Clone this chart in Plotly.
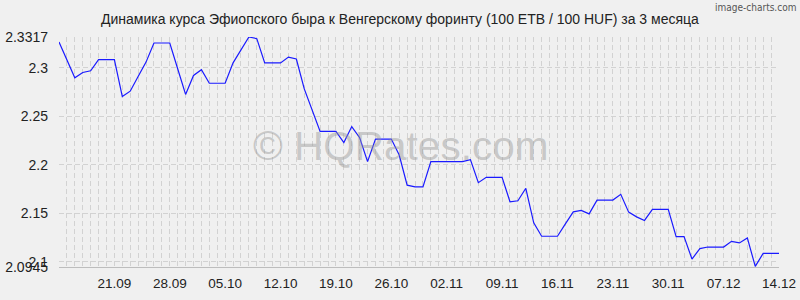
import datetime as dt
import plotly.graph_objects as go

start_date = dt.date(2025, 9, 14)
values = [
    2.3265, 2.3083, 2.2896, 2.2951, 2.2969, 2.3083, 2.3083, 2.3083, 2.2703, 2.2758,
    2.2910, 2.3058, 2.3255, 2.3255, 2.3255, 2.2990, 2.2725, 2.2920, 2.2980, 2.2840,
    2.2840, 2.2840, 2.3050, 2.3180, 2.3317, 2.3300, 2.3050, 2.3050, 2.3050, 2.3110,
    2.3090, 2.2782, 2.2565, 2.2343, 2.2343, 2.2343, 2.2229, 2.2393, 2.2278, 2.2032,
    2.2264, 2.2264, 2.2264, 2.2100, 2.1789, 2.1771, 2.1771, 2.2032, 2.2032, 2.2032,
    2.2032, 2.2032, 2.2052, 2.1815, 2.1870, 2.1870, 2.1870, 2.1618, 2.1628, 2.1757,
    2.1400, 2.1262, 2.1262, 2.1262, 2.1390, 2.1514, 2.1529, 2.1493, 2.1635, 2.1635,
    2.1635, 2.1694, 2.1511, 2.1462, 2.1425, 2.1539, 2.1539, 2.1539, 2.1259, 2.1259,
    2.1027, 2.1135, 2.1151, 2.1151, 2.1151, 2.1210, 2.1193, 2.1245, 2.0951, 2.1086,
    2.1086, 2.1086,
]
dates = [start_date + dt.timedelta(days=i) for i in range(len(values))]

# weekly x tick labels (dd.mm), first one on 21.09
x_tickdates = [dt.date(2025, 9, 21) + dt.timedelta(days=7 * k) for k in range(13)]

y_tickvals = [2.0945, 2.1, 2.15, 2.2, 2.25, 2.3, 2.3317]
y_ticktext = ["2.0945", "2.1", "2.15", "2.2", "2.25", "2.3", "2.3317"]
y_min, y_max = 2.0945, 2.3317

title_text = "Динамика курса Эфиопского быра к Венгерскому форинту (100 ETB / 100 HUF) за 3 месяца"
watermark = "© HQRates.com"
credit = "image-charts.com"

BG = "#f0f0f0"
GRID = "#d2d2d2"
FONT = "Liberation Sans, Arial, sans-serif"

ML, MR, MT, MB = 59, 21, 37, 33
W, H = 800, 300
plot_w = W - ML - MR
plot_h = H - MT - MB


def px_x(x):
    return (x - ML) / plot_w


def px_y(y):
    return 1 - (y - MT) / plot_h


fig = go.Figure()
fig.add_trace(go.Scatter(
    x=dates, y=values, mode="lines",
    line=dict(color="#1a1aff", width=1.2),
    hoverinfo="skip",
))

fig.update_layout(
    width=W, height=H,
    margin=dict(l=ML, r=MR, t=MT, b=MB),
    paper_bgcolor=BG, plot_bgcolor=BG,
    showlegend=False,
    font=dict(family=FONT, size=13, color="#222222"),
    annotations=[
        dict(text=title_text, xref="paper", yref="paper",
             x=px_x(399.5), y=px_y(19), xanchor="center", yanchor="middle",
             showarrow=False, font=dict(size=14, color="#222222")),
        dict(text=credit, xref="paper", yref="paper",
             x=px_x(798), y=px_y(7), xanchor="right", yanchor="middle",
             showarrow=False,
             font=dict(family="DejaVu Sans Condensed, DejaVu Sans, sans-serif",
                       size=10, color="#555555")),
        dict(text=watermark, xref="paper", yref="paper",
             x=px_x(400), y=px_y(146), xanchor="center", yanchor="middle",
             showarrow=False, font=dict(size=40.5, color="rgba(150,150,150,0.45)")),
    ],
)

fig.update_xaxes(
    type="date",
    range=[dates[0], dates[-1]],
    tickmode="array", tickvals=x_tickdates,
    tickformat="%d.%m",
    showgrid=True, gridcolor=GRID, griddash="5px,3px", gridwidth=1,
    showline=True, linecolor="#bdbdbd", linewidth=1,
    ticks="", ticklabelstandoff=4,
    minor=dict(dtick=86400000, tick0="2025-09-14", showgrid=True,
               gridcolor=GRID, griddash="5px,3px", gridwidth=1),
    tickfont=dict(size=13.5, color="#222222"),
    zeroline=False, fixedrange=True, automargin=False,
)
fig.update_yaxes(
    range=[y_min, y_max],
    tickmode="array", tickvals=y_tickvals, ticktext=y_ticktext,
    showgrid=True, gridcolor=GRID, griddash="5px,3px", gridwidth=1,
    showline=False, ticks="", ticklabelstandoff=10,
    tickfont=dict(size=14, color="#222222"),
    zeroline=False, fixedrange=True, automargin=False,
)

fig.write_html("out.html", config={"displayModeBar": False})
